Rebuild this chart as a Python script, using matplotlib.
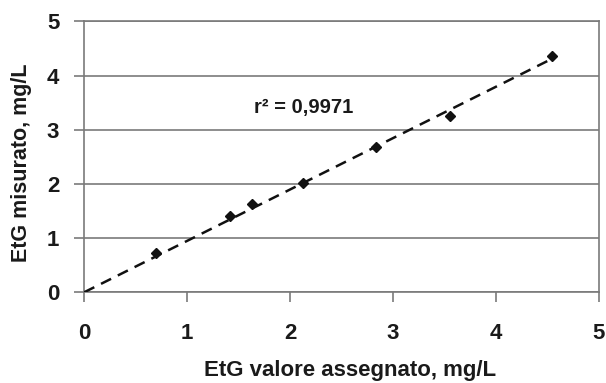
import numpy as np
import matplotlib
matplotlib.use("Agg")
import matplotlib.pyplot as plt

x_assigned = [0.70, 1.42, 1.63, 2.13, 2.84, 3.55, 4.55]
y_measured = [0.72, 1.41, 1.63, 2.01, 2.68, 3.25, 4.36]
ticks = [0, 1, 2, 3, 4, 5]
r2_label = "r\u00b2 = 0,9971"

plt.rcParams['font.family'] = ['Liberation Sans', 'DejaVu Sans']

fig = plt.figure(figsize=(6.06, 3.83), dpi=100)
ax = fig.add_axes([0.139, 0.237, 0.849, 0.707])

xa = np.array(x_assigned)
ya = np.array(y_measured)
slope = np.sum(xa * ya) / np.sum(xa * xa)
xl = np.array([0, xa.max()])
ax.plot(xl, slope * xl, color='#111111', lw=1.8, ls=(0, (4.5, 3)), zorder=3)
ax.plot(xa, ya, ls='none', marker='D', ms=5.5, color='#111111', zorder=4)

ax.set_xlim(0, 5)
ax.set_ylim(0, 5)
ax.set_xticks(ticks)
ax.set_yticks(ticks)
ax.yaxis.grid(True, color='#7a7a7a', lw=1.2)
ax.set_axisbelow(True)
for s in ['left', 'bottom', 'right', 'top']:
    ax.spines[s].set_color('#7a7a7a')
    ax.spines[s].set_linewidth(1.2)
ax.tick_params(axis='both', direction='out', length=7, width=1.2, color='#7a7a7a',
               labelsize=16, labelcolor='#1a1a1a')
ax.tick_params(axis='x', pad=15)
ax.tick_params(axis='y', pad=11)
for lab in ax.get_xticklabels() + ax.get_yticklabels():
    lab.set_fontweight('bold')

ax.set_xlabel('EtG valore assegnato, mg/L', fontsize=16, fontweight='bold', color='#1a1a1a')
ax.xaxis.set_label_coords(0.517, -0.25)
ax.set_ylabel('EtG misurato, mg/L', fontsize=15.5, fontweight='bold', color='#1a1a1a')
ax.yaxis.set_label_coords(-0.102, 0.48)
ax.text(2.13, 3.42, r2_label, ha='center', va='center', fontsize=14.5, fontweight='bold', color='#1a1a1a')

fig.savefig('out.png', dpi=100)
